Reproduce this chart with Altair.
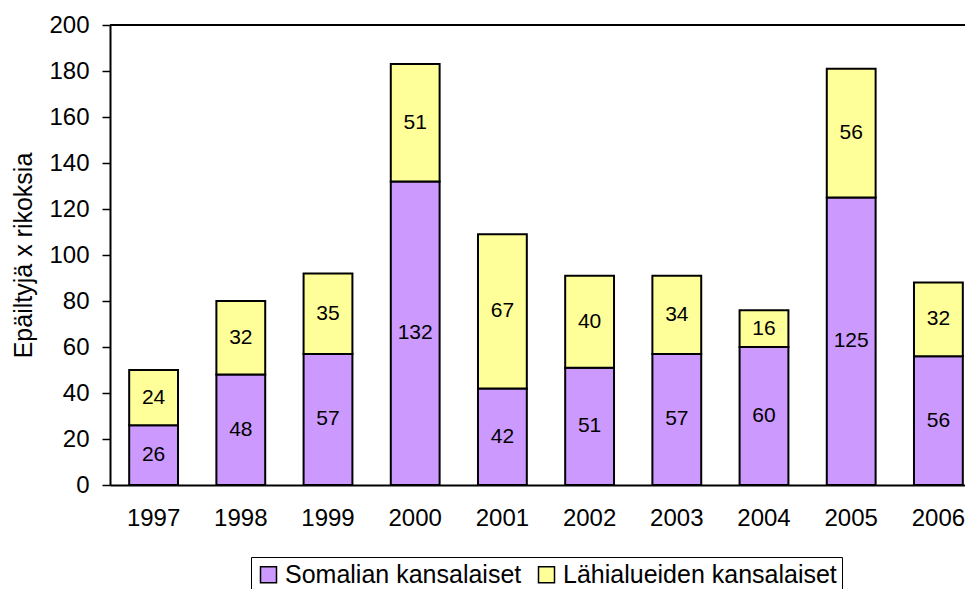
import altair as alt
import pandas as pd

years = ["1997", "1998", "1999", "2000", "2001", "2002", "2003", "2004", "2005", "2006"]
somalian = [26, 48, 57, 132, 42, 51, 57, 60, 125, 56]
lahialue = [24, 32, 35, 51, 67, 40, 34, 16, 56, 32]
groups = ["Somalian kansalaiset", "Lähialueiden kansalaiset"]
colors = ["#CC99FF", "#FFFF99"]
y_ticks = [0, 20, 40, 60, 80, 100, 120, 140, 160, 180, 200]

rows = []
for i, y in enumerate(years):
    rows.append({"year": y, "group": groups[0], "idx": 0, "value": somalian[i]})
    rows.append({"year": y, "group": groups[1], "idx": 1, "value": lahialue[i]})
df = pd.DataFrame(rows)

FONT = "Liberation Sans"

xscale = alt.Scale(range=[0, 872], paddingInner=0.44, paddingOuter=0.22)
yscale = alt.Scale(domain=[0, 200], nice=False)

base = alt.Chart(df)

bars = base.mark_bar(stroke="black", strokeWidth=2).encode(
    x=alt.X("year:N", scale=xscale, title=None,
            axis=alt.Axis(ticks=False, labelPadding=21, labelFontSize=24, labelAngle=0,
                          labelFont=FONT, labelColor="black", domainColor="black",
                          domainWidth=2)),
    y=alt.Y("value:Q", stack="zero", scale=yscale, title="Epäiltyjä x rikoksia",
            axis=alt.Axis(values=y_ticks, tickSize=8, tickColor="black", tickWidth=1.5,
                          labelFontSize=24, labelFont=FONT, labelColor="black",
                          labelPadding=13, domainColor="black", domainWidth=2,
                          grid=False, titleFont=FONT, titleFontSize=25,
                          titleFontWeight="normal", titleColor="black", titlePadding=12)),
    color=alt.Color("group:N", scale=alt.Scale(domain=groups, range=colors),
                    legend=alt.Legend(title=None, orient="none", legendX=141, legendY=532,
                                      direction="horizontal", strokeColor="black",
                                      padding=5, labelFontSize=25, labelFont=FONT,
                                      labelColor="black", labelLimit=600,
                                      symbolType="square", symbolSize=256,
                                      symbolStrokeColor="black", symbolStrokeWidth=1.5,
                                      columnPadding=12, labelOffset=4)),
    order=alt.Order("idx:Q"),
)

labels = base.transform_stack(
    stack="value", groupby=["year"], as_=["v0", "v1"],
    sort=[alt.SortField("idx", order="ascending")]
).transform_calculate(
    mid="(datum.v0 + datum.v1) / 2"
).mark_text(fontSize=21, font=FONT, color="black", baseline="middle").encode(
    x=alt.X("year:N", scale=xscale),
    y=alt.Y("mid:Q", scale=yscale),
    text=alt.Text("value:Q"),
)

top_line = alt.Chart(pd.DataFrame({"v": [200]})).mark_rule(color="black", strokeWidth=2).encode(
    y=alt.Y("v:Q", scale=yscale),
    x=alt.value(0),
    x2=alt.value(900),
)

chart = alt.layer(bars, labels, top_line).properties(
    width=855, height=460,
    autosize=alt.AutoSizeParams(type="none"),
    padding={"left": 102, "top": 17, "right": 0, "bottom": 104},
).configure_view(stroke=None).configure(background="white")

chart.save("out.html", embed_options={"renderer": "svg", "actions": False})
